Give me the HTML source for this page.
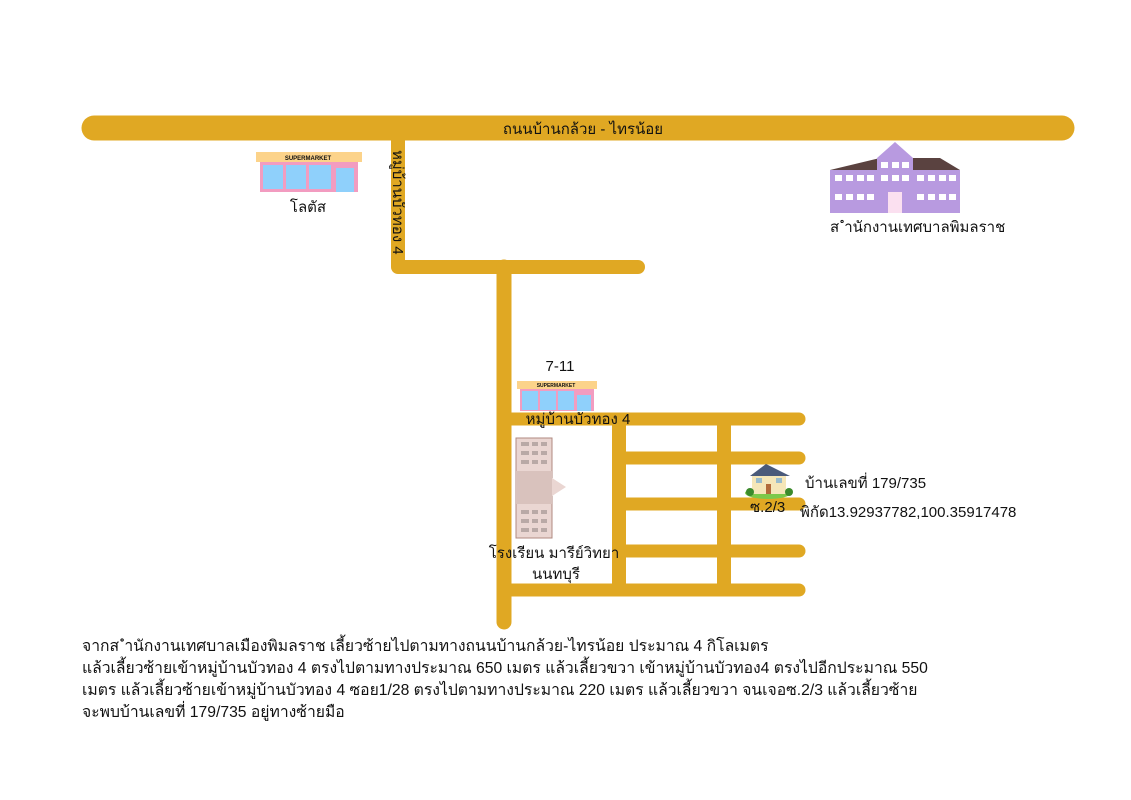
<!DOCTYPE html>
<html><head><meta charset="utf-8"><style>
body{margin:0;background:#fff;width:1131px;height:800px;overflow:hidden;font-family:"Liberation Sans","DejaVu Sans",sans-serif;}
svg{position:absolute;left:0;top:0}
text{font-family:"Liberation Sans","DejaVu Sans",sans-serif;fill:#111}
.p{position:absolute;left:82px;top:636px;font-size:15.7px;line-height:22px;color:#111;white-space:nowrap}
</style></head><body>
<svg width="1131" height="800" viewBox="0 0 1131 800">
<g stroke="#e0a823" stroke-linecap="round" fill="none">
<line x1="94" y1="128" x2="1062" y2="128" stroke-width="25"/>
<line x1="398" y1="135" x2="398" y2="267" stroke-width="14" stroke-linecap="butt"/>
<line x1="398" y1="267" x2="638" y2="267" stroke-width="14"/>
<line x1="504" y1="267" x2="504" y2="622" stroke-width="15"/>
<line x1="504" y1="419" x2="799" y2="419" stroke-width="13"/>
<line x1="619" y1="458" x2="799" y2="458" stroke-width="13"/>
<line x1="619" y1="504" x2="799" y2="504" stroke-width="13"/>
<line x1="619" y1="551" x2="799" y2="551" stroke-width="13"/>
<line x1="504" y1="590" x2="799" y2="590" stroke-width="13"/>
<line x1="619" y1="419" x2="619" y2="590" stroke-width="14" stroke-linecap="butt"/>
<line x1="724" y1="419" x2="724" y2="590" stroke-width="14" stroke-linecap="butt"/>
</g>
<text x="583" y="134" font-size="15" text-anchor="middle">ถนนบ้านกล้วย - ไทรน้อย</text>
<text transform="translate(393,150) rotate(90)" font-size="15">หมู่บ้านบัวทอง 4</text>
<g>
<rect x="256" y="152" width="106" height="10" fill="#fcd38a"/>
<rect x="260" y="162" width="98" height="30" fill="#f29cc0"/>
<rect x="263" y="165" width="20" height="24" fill="#8fd0fb"/>
<rect x="286" y="165" width="20" height="24" fill="#8fd0fb"/>
<rect x="309" y="165" width="22" height="24" fill="#8fd0fb"/>
<rect x="336" y="168" width="18" height="24" fill="#8fd0fb"/>
<text x="308" y="160" font-size="6" font-weight="bold" text-anchor="middle">SUPERMARKET</text>
</g>
<text x="308" y="212" font-size="15" text-anchor="middle">โลตัส</text>
<g>
<polygon points="830,170 880,158 940,158 960,170" fill="#5a4240"/>
<rect x="830" y="170" width="130" height="43" fill="#b89ae0"/>
<polygon points="877,158 895,142 913,158" fill="#b89ae0"/>
<rect x="877" y="158" width="36" height="55" fill="#b89ae0"/>
<g fill="#fff">
<rect x="835" y="175" width="7" height="6"/><rect x="846" y="175" width="7" height="6"/><rect x="857" y="175" width="7" height="6"/><rect x="867" y="175" width="7" height="6"/>
<rect x="917" y="175" width="7" height="6"/><rect x="928" y="175" width="7" height="6"/><rect x="939" y="175" width="7" height="6"/><rect x="949" y="175" width="7" height="6"/>
<rect x="835" y="194" width="7" height="6"/><rect x="846" y="194" width="7" height="6"/><rect x="857" y="194" width="7" height="6"/><rect x="867" y="194" width="7" height="6"/>
<rect x="917" y="194" width="7" height="6"/><rect x="928" y="194" width="7" height="6"/><rect x="939" y="194" width="7" height="6"/><rect x="949" y="194" width="7" height="6"/>
<rect x="881" y="162" width="7" height="6"/><rect x="892" y="162" width="7" height="6"/><rect x="902" y="162" width="7" height="6"/>
<rect x="881" y="175" width="7" height="6"/><rect x="892" y="175" width="7" height="6"/><rect x="902" y="175" width="7" height="6"/>
</g>
<rect x="888" y="192" width="14" height="21" fill="#fbe0f0"/>
</g>
<text x="830" y="232" font-size="15">ส ำนักงานเทศบาลพิมลราช</text>
<text x="560" y="371" font-size="15" text-anchor="middle">7-11</text>
<rect x="517" y="381" width="80" height="8" fill="#fcd38a"/>
<text x="556" y="387" font-size="5" font-weight="bold" text-anchor="middle">SUPERMARKET</text>
<rect x="520" y="389" width="74" height="22" fill="#f29cc0"/>
<rect x="522" y="391" width="16" height="19" fill="#8fd0fb"/>
<rect x="540" y="391" width="16" height="19" fill="#8fd0fb"/>
<rect x="558" y="391" width="16" height="19" fill="#8fd0fb"/>
<rect x="577" y="395" width="14" height="16" fill="#8fd0fb"/>
<text x="578" y="424" font-size="15" text-anchor="middle">หมู่บ้านบัวทอง 4</text>
<rect x="516" y="438" width="36" height="100" fill="#ead6d2" stroke="#b08a80" stroke-width="1"/>
<rect x="516" y="471" width="36" height="33" fill="#d9c2bd"/>
<polygon points="552,478 566,487 552,496" fill="#ead6d2"/>
<g fill="#b9a9a6">
<rect x="521" y="442" width="8" height="4"/><rect x="532" y="442" width="6" height="4"/><rect x="541" y="442" width="6" height="4"/>
<rect x="521" y="451" width="8" height="4"/><rect x="532" y="451" width="6" height="4"/><rect x="541" y="451" width="6" height="4"/>
<rect x="521" y="460" width="8" height="4"/><rect x="532" y="460" width="6" height="4"/><rect x="541" y="460" width="6" height="4"/>
<rect x="521" y="510" width="8" height="4"/><rect x="532" y="510" width="6" height="4"/><rect x="541" y="510" width="6" height="4"/>
<rect x="521" y="519" width="8" height="4"/><rect x="532" y="519" width="6" height="4"/><rect x="541" y="519" width="6" height="4"/>
<rect x="521" y="528" width="8" height="4"/><rect x="532" y="528" width="6" height="4"/><rect x="541" y="528" width="6" height="4"/>
</g>
<text x="554" y="558" font-size="15" text-anchor="middle">โรงเรียน มารีย์วิทยา</text>
<text x="556" y="579" font-size="15" text-anchor="middle">นนทบุรี</text>
<ellipse cx="768" cy="493" rx="23" ry="6" fill="#7cc94a"/>
<rect x="752" y="474" width="34" height="20" fill="#f5e6b8"/>
<polygon points="750,476 766,464 790,476" fill="#4a5a7a"/>
<rect x="766" y="484" width="5" height="10" fill="#b26a3a"/>
<rect x="756" y="478" width="6" height="5" fill="#9bc"/><rect x="776" y="478" width="6" height="5" fill="#9bc"/>
<circle cx="750" cy="492" r="4" fill="#3c8a2c"/><circle cx="789" cy="492" r="4" fill="#3c8a2c"/>
<text x="750" y="512" font-size="15">ซ.2/3</text>
<text x="805" y="488" font-size="15">บ้านเลขที่ 179/735</text>
<text x="800" y="517" font-size="15">พิกัด13.92937782,100.35917478</text>
</svg>
<div class="p">จากส ำนักงานเทศบาลเมืองพิมลราช เลี้ยวซ้ายไปตามทางถนนบ้านกล้วย-ไทรน้อย ประมาณ 4 กิโลเมตร<br>แล้วเลี้ยวซ้ายเข้าหมู่บ้านบัวทอง 4 ตรงไปตามทางประมาณ 650 เมตร แล้วเลี้ยวขวา เข้าหมู่บ้านบัวทอง4 ตรงไปอีกประมาณ 550<br>เมตร แล้วเลี้ยวซ้ายเข้าหมู่บ้านบัวทอง 4 ซอย1/28 ตรงไปตามทางประมาณ 220 เมตร แล้วเลี้ยวขวา จนเจอซ.2/3 แล้วเลี้ยวซ้าย<br>จะพบบ้านเลขที่ 179/735 อยู่ทางซ้ายมือ</div>
</body></html>
